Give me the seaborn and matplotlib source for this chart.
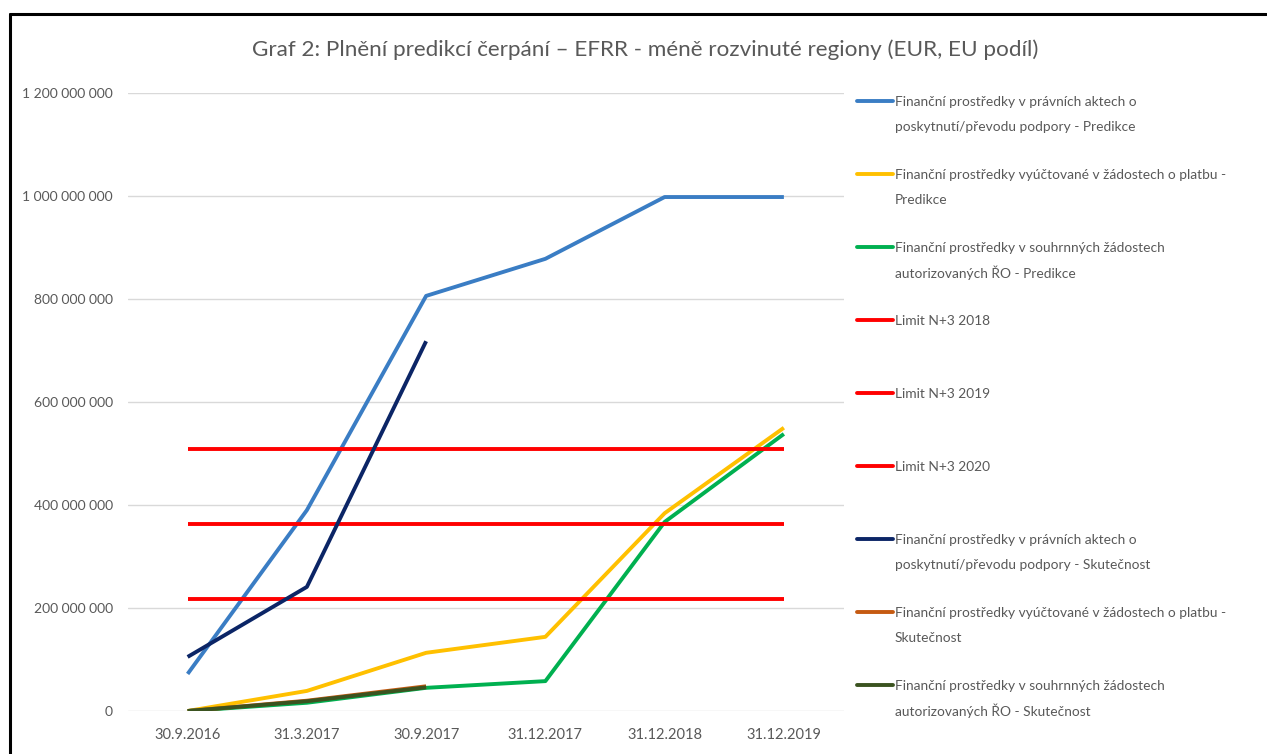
import matplotlib.pyplot as plt
import matplotlib.lines as mlines
import numpy as np
import pandas as pd
import seaborn as sns
from matplotlib.ticker import FuncFormatter

# Categories (reporting dates)
dates = ["30.9.2016", "31.3.2017", "30.9.2017", "31.12.2017", "31.12.2018", "31.12.2019"]

# Predictions (EUR)
akty_predikce = [72e6, 390e6, 806e6, 878e6, 998e6, 998e6]
platby_predikce = [0, 39e6, 113e6, 144e6, 384e6, 550e6]
souhrnne_predikce = [0, 16e6, 45e6, 58e6, 367e6, 538e6]

# N+3 limits
limit_2018 = [217e6, 217e6, 217e6, 217e6, 217e6, 217e6]
limit_2019 = [363e6, 363e6, 363e6, 363e6, 363e6, 363e6]
limit_2020 = [509e6, 509e6, 509e6, 509e6, 509e6, 509e6]

# Actual values (only first three dates)
akty_skutecnost = [105e6, 241e6, 718e6]
platby_skutecnost = [0, 20e6, 48e6]
souhrnne_skutecnost = [0, 19e6, 46e6]

labels = [
    "Finanční prostředky v právních aktech o\nposkytnutí/převodu podpory - Predikce",
    "Finanční prostředky vyúčtované v žádostech o platbu -\nPredikce",
    "Finanční prostředky v souhrnných žádostech\nautorizovaných ŘO - Predikce",
    "Limit N+3 2018",
    "Limit N+3 2019",
    "Limit N+3 2020",
    "Finanční prostředky v právních aktech o\nposkytnutí/převodu podpory - Skutečnost",
    "Finanční prostředky vyúčtované v žádostech o platbu -\nSkutečnost",
    "Finanční prostředky v souhrnných žádostech\nautorizovaných ŘO - Skutečnost",
]
series = [akty_predikce, platby_predikce, souhrnne_predikce,
          limit_2018, limit_2019, limit_2020,
          akty_skutecnost, platby_skutecnost, souhrnne_skutecnost]
colors = ["#3A7DC4", "#FFC000", "#00B050",
          "#FF0000", "#FF0000", "#FF0000",
          "#0B2566", "#C55A11", "#3B5320"]

sns.set_style("white")
plt.rcParams['font.family'] = ['Lato', 'DejaVu Sans']
text_color = "#595959"

W, H = 1267, 754
fig = plt.figure(figsize=(W / 100, H / 100), dpi=100)
ax = fig.add_axes([128 / W, 1 - 711 / H, (843.5 - 128) / W, (711 - 93) / H])

x_all = np.arange(len(dates))
for vals, color in zip(series, colors):
    sns.lineplot(x=x_all[:len(vals)], y=vals, color=color, linewidth=2.8,
                 ax=ax, sort=False, legend=False, solid_capstyle='butt')

ax.set_xlim(-0.5, len(dates) - 0.5)
ax.set_ylim(0, 1.2e9)
ax.set_yticks(np.arange(0, 1.2e9 + 1, 2e8))
ax.yaxis.set_major_formatter(FuncFormatter(lambda v, p: f"{int(v):,}".replace(",", " ")))
ax.set_xticks(x_all)
ax.set_xticklabels(dates)
ax.set_xlabel("")
ax.set_ylabel("")
ax.grid(axis='y', color='#D9D9D9', linewidth=1)
ax.set_axisbelow(True)
for s in ax.spines.values():
    s.set_visible(False)
ax.tick_params(axis='y', length=0, pad=11, labelsize=10, labelcolor=text_color)
ax.tick_params(axis='x', length=0, pad=12, labelsize=10.5, labelcolor=text_color)

fig.text(645 / W, 1 - 50 / H,
         "Graf 2: Plnění predikcí čerpání – EFRR - méně rozvinuté regiony (EUR, EU podíl)",
         ha='center', va='center', fontsize=16.2, color=text_color)

# Legend drawn at the same spots as the original
for i, (lab, color) in enumerate(zip(labels, colors)):
    y0 = 101 + 73 * i
    fig.add_artist(mlines.Line2D([857 / W, 893 / W], [1 - y0 / H, 1 - y0 / H],
                                 color=color, linewidth=2.8))
    for j, line in enumerate(lab.split("\n")):
        fig.text(895 / W, 1 - (y0 + 25 * j) / H, line, ha='left', va='center_baseline',
                 fontsize=9.9, color=text_color)

# Frame of the original screenshot
fig.add_artist(mlines.Line2D([10 / W, 10 / W], [0, 1 - 13.5 / H], color='black', linewidth=2.2))
fig.add_artist(mlines.Line2D([10 / W, 1266 / W], [1 - 13.5 / H, 1 - 13.5 / H], color='black', linewidth=2.2))

fig.savefig("out.png", dpi=100)
